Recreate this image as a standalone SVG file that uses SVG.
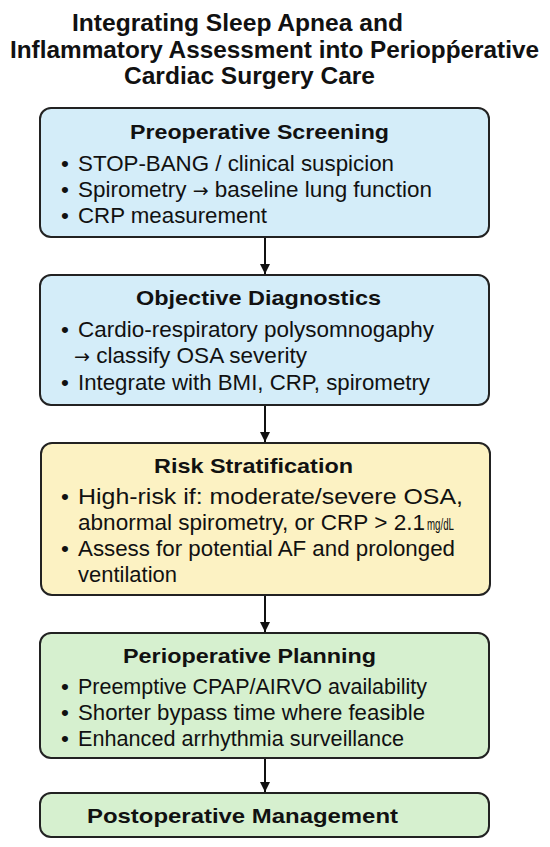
<svg xmlns="http://www.w3.org/2000/svg" width="550" height="847" viewBox="0 0 550 847">
<defs>
<marker id="ah" viewBox="0 0 10 10" refX="10" refY="5" markerWidth="10" markerHeight="10" markerUnits="userSpaceOnUse" orient="auto">
<path d="M0,0 L10,5 L0,10 z" fill="#111"/>
</marker>
</defs>
<style>
text{font-family:"Liberation Sans",Arial,sans-serif;fill:#111}
.ttl{font-size:24px;font-weight:bold}
.hd{font-size:21px;font-weight:bold}
.bd{font-size:22.5px}
.arr{font-family:"DejaVu Sans",sans-serif;font-size:19px}
.blue{fill:#d4edf9;stroke:#222;stroke-width:2}
.yel{fill:#fcf2c3;stroke:#222;stroke-width:2}
.grn{fill:#d6f0cf;stroke:#222;stroke-width:2}
.con{stroke:#111;stroke-width:2;fill:none}
</style>
<rect width="550" height="847" fill="#fff"/>
<g id="title">
<text class="ttl" x="72" y="31" textLength="331" lengthAdjust="spacingAndGlyphs">Integrating Sleep Apnea and</text>
<text class="ttl" x="10" y="58" textLength="529" lengthAdjust="spacingAndGlyphs">Inflammatory Assessment into Periopp&#x301;erative</text>
<text class="ttl" x="124" y="84" textLength="251" lengthAdjust="spacingAndGlyphs">Cardiac Surgery Care</text>
</g>
<g id="connectors">
<line class="con" x1="265" y1="238" x2="265" y2="274" marker-end="url(#ah)"/>
<line class="con" x1="265" y1="406" x2="265" y2="442" marker-end="url(#ah)"/>
<line class="con" x1="265" y1="596" x2="265" y2="632" marker-end="url(#ah)"/>
<line class="con" x1="265" y1="759" x2="265" y2="792" marker-end="url(#ah)"/>
</g>
<g id="node-preoperative-screening">
<rect class="blue" x="40" y="108" width="449" height="129" rx="11"/>
<text class="hd" x="130" y="139" textLength="259" lengthAdjust="spacingAndGlyphs">Preoperative Screening</text>
<text class="bd" x="61" y="171">•</text>
<text class="bd" x="78" y="171" textLength="316" lengthAdjust="spacingAndGlyphs">STOP-BANG / clinical suspicion</text>
<text class="bd" x="61" y="197">•</text>
<text class="bd" x="78" y="197" textLength="354" lengthAdjust="spacingAndGlyphs">Spirometry <tspan class="arr">→</tspan> baseline lung function</text>
<text class="bd" x="61" y="223">•</text>
<text class="bd" x="78" y="223" textLength="189" lengthAdjust="spacingAndGlyphs">CRP measurement</text>
</g>
<g id="node-objective-diagnostics">
<rect class="blue" x="40" y="275" width="449" height="130" rx="11"/>
<text class="hd" x="136" y="305" textLength="245" lengthAdjust="spacingAndGlyphs">Objective Diagnostics</text>
<text class="bd" x="61" y="337">•</text>
<text class="bd" x="78" y="337" textLength="356" lengthAdjust="spacingAndGlyphs">Cardio-respiratory polysomnogaphy</text>
<text class="bd" x="74" y="363" textLength="233" lengthAdjust="spacingAndGlyphs"><tspan class="arr">→</tspan> classify OSA severity</text>
<text class="bd" x="61" y="390">•</text>
<text class="bd" x="78" y="390" textLength="352" lengthAdjust="spacingAndGlyphs">Integrate with BMI, CRP, spirometry</text>
</g>
<g id="node-risk-stratification">
<rect class="yel" x="41" y="443" width="449" height="152" rx="11"/>
<text class="hd" x="154" y="473" textLength="199" lengthAdjust="spacingAndGlyphs">Risk Stratification</text>
<text class="bd" x="61" y="504">•</text>
<text class="bd" x="78" y="504" textLength="385" lengthAdjust="spacingAndGlyphs">High-risk if: moderate/severe OSA,</text>
<text class="bd" x="78" y="530" textLength="347" lengthAdjust="spacingAndGlyphs">abnormal spirometry, or CRP &gt; 2.1</text>
<text x="427" y="530" font-size="17" textLength="27" lengthAdjust="spacingAndGlyphs">mg/dL</text>
<text class="bd" x="61" y="556">•</text>
<text class="bd" x="78" y="556" textLength="377" lengthAdjust="spacingAndGlyphs">Assess for potential AF and prolonged</text>
<text class="bd" x="78" y="582" textLength="99" lengthAdjust="spacingAndGlyphs">ventilation</text>
</g>
<g id="node-perioperative-planning">
<rect class="grn" x="40" y="633" width="449" height="125" rx="11"/>
<text class="hd" x="123" y="663" textLength="253" lengthAdjust="spacingAndGlyphs">Perioperative Planning</text>
<text class="bd" x="61" y="694">•</text>
<text class="bd" x="78" y="694" textLength="349" lengthAdjust="spacingAndGlyphs">Preemptive CPAP/AIRVO availability</text>
<text class="bd" x="61" y="720">•</text>
<text class="bd" x="78" y="720" textLength="347" lengthAdjust="spacingAndGlyphs">Shorter bypass time where feasible</text>
<text class="bd" x="61" y="746">•</text>
<text class="bd" x="78" y="746" textLength="326" lengthAdjust="spacingAndGlyphs">Enhanced arrhythmia surveillance</text>
</g>
<g id="node-postoperative-management">
<rect class="grn" x="40" y="793" width="449" height="44" rx="11"/>
<text class="hd" x="87" y="823" textLength="311" lengthAdjust="spacingAndGlyphs">Postoperative Management</text>
</g>
</svg>
